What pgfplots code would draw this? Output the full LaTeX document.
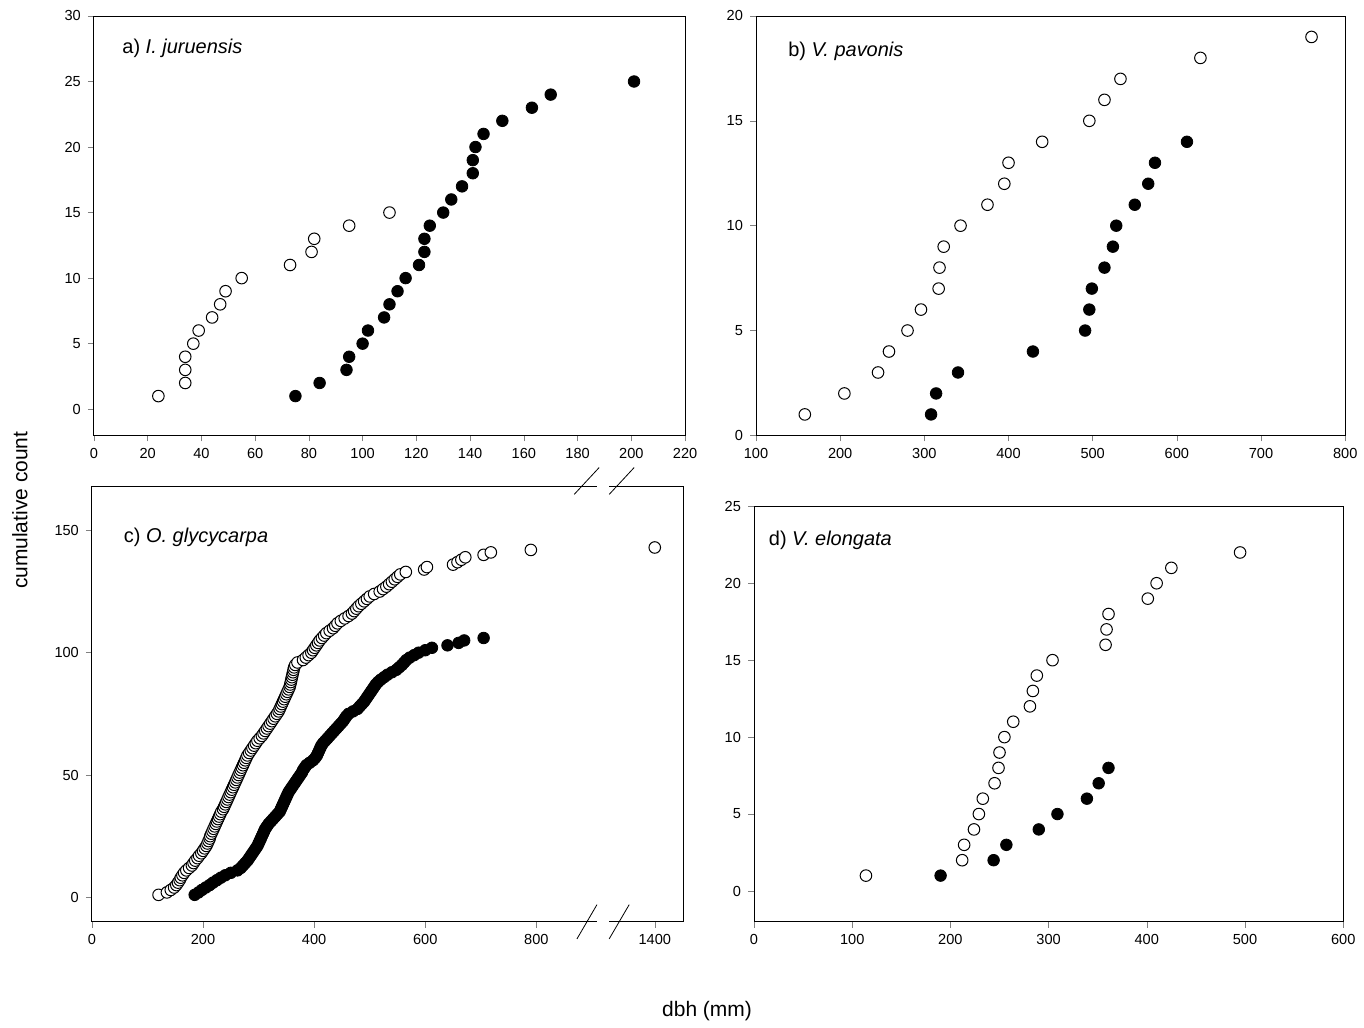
\documentclass[border=0pt]{standalone}
\usepackage{pgfplots}
\pgfplotsset{compat=1.18}
\usepackage{fontspec}
\setmainfont{Liberation Sans}
\pgfplotsset{every axis/.style={scale only axis, anchor=south west, tick align=outside, xtick pos=bottom, ytick pos=left,
 tick label style={font=\fontsize{7.3}{8}\selectfont}, /pgf/number format/assume math mode=true,
 major tick length=3pt, clip=false},
 op/.style={only marks, mark=*, mark options={fill=white,draw=black,line width=0.5pt}, mark size=2.9pt},
 fi/.style={only marks, mark=*, mark options={fill=black,draw=black}, mark size=2.9pt}}
\begin{document}
\begin{tikzpicture}
\path (0pt,0pt) rectangle (682pt,511.5pt);
% a
\begin{axis}[at={(47pt,293.5pt)}, width=296pt, height=210pt, xmin=0, xmax=220, ymin=-2, ymax=30,
 xtick={0,20,...,220}, ytick={0,5,...,30}]
\node[anchor=west,font=\fontsize{10}{12}\selectfont] at (axis cs:8,27.5) {a) \textit{I. juruensis}};
\addplot[op] coordinates {(24,1)(34,2)(34,3)(34,4)(37,5)(39,6)(44,7)(47,8)(49,9)(55,10)(73,11)(81,12)(82,13)(95,14)(110,15)};
\addplot[fi] coordinates {(75,1)(84,2)(94,3)(95,4)(100,5)(102,6)(108,7)(110,8)(113,9)(116,10)(121,11)(123,12)(123,13)(125,14)(130,15)(133,16)(137,17)(141,18)(141,19)(142,20)(145,21)(152,22)(163,23)(170,24)(201,25)};
\end{axis}
% b
\begin{axis}[at={(378.5pt,293.5pt)}, width=295pt, height=210pt, xmin=100, xmax=800, ymin=0, ymax=20,
 xtick={100,200,...,800}, ytick={0,5,...,20}]
\node[anchor=west,font=\fontsize{10}{12}\selectfont] at (axis cs:130,18.3) {b) \textit{V. pavonis}};
\addplot[op] coordinates {(158,1)(205,2)(245,3)(258,4)(280,5)(296,6)(317,7)(318,8)(323,9)(343,10)(375,11)(395,12)(400,13)(440,14)(496,15)(514,16)(533,17)(628,18)(760,19)};
\addplot[fi] coordinates {(308,1)(314,2)(340,3)(429,4)(491,5)(496,6)(499,7)(514,8)(524,9)(528,10)(550,11)(566,12)(574,13)(612,14)};
\end{axis}
% c
\begin{axis}[at={(46pt,50pt)}, width=296pt, height=218pt, xmin=0, xmax=1064, ymin=-10, ymax=168,
 xtick={0,200,400,600,800,1013}, xticklabels={0,200,400,600,800,1400}, ytick={0,50,100,150}]
\node[anchor=west,font=\fontsize{10}{12}\selectfont] at (axis cs:45,147) {c) \textit{O. glycycarpa}};
\addplot[op] coordinates {(120,1)(135,2)(142,3)(148,4)(152,5)(155,6)(158,7)(160,8)(163,9)(166,10)(170,11)(175,12)(180,13)(183,14)(186,15)(190,16)(193,17)(197,18)(200,19)(203,20)(206,21)(208,22)(210,23)(212,24)(213,25)(215,26)(217,27)(219,28)(221,29)(223,30)(225,31)(227,32)(229,33)(231,34)(233,35)(236,36)(238,37)(240,38)(242,39)(244,40)(246,41)(248,42)(250,43)(252,44)(254,45)(256,46)(258,47)(260,48)(262,49)(264,50)(266,51)(268,52)(270,53)(272,54)(274,55)(276,56)(278,57)(280,58)(283,59)(286,60)(289,61)(292,62)(295,63)(298,64)(302,65)(306,66)(309,67)(312,68)(315,69)(318,70)(321,71)(324,72)(327,73)(330,74)(333,75)(336,76)(338,77)(340,78)(342,79)(344,80)(346,81)(348,82)(350,83)(352,84)(354,85)(356,86)(357,87)(358,88)(359,89)(360,90)(361,91)(362,92)(363,93)(364,94)(366,95)(370,96)(380,97)(385,98)(390,99)(395,100)(398,101)(401,102)(404,103)(407,104)(410,105)(414,106)(418,107)(422,108)(428,109)(434,110)(438,111)(442,112)(448,113)(455,114)(462,115)(468,116)(472,117)(476,118)(480,119)(485,120)(490,121)(495,122)(500,123)(508,124)(518,125)(524,126)(530,127)(535,128)(540,129)(545,130)(550,131)(555,132)(565,133)(598,134)(603,135)(650,136)(658,137)(665,138)(672,139)(705,140)(718,141)(790,142)(1013,143)};
\addplot[fi] coordinates {(185,1)(192,2)(198,3)(205,4)(212,5)(218,6)(225,7)(232,8)(240,9)(250,10)(262,11)(268,12)(272,13)(276,14)(280,15)(283,16)(286,17)(289,18)(292,19)(295,20)(298,21)(300,22)(302,23)(304,24)(306,25)(308,26)(310,27)(312,28)(315,29)(318,30)(322,31)(326,32)(330,33)(334,34)(338,35)(340,36)(342,37)(344,38)(346,39)(348,40)(350,41)(352,42)(354,43)(357,44)(360,45)(363,46)(366,47)(369,48)(372,49)(375,50)(378,51)(380,52)(383,53)(386,54)(392,55)(398,56)(402,57)(405,58)(407,59)(409,60)(411,61)(413,62)(416,63)(420,64)(424,65)(428,66)(432,67)(436,68)(440,69)(444,70)(448,71)(452,72)(455,73)(458,74)(462,75)(470,76)(478,77)(482,78)(486,79)(490,80)(493,81)(496,82)(499,83)(502,84)(505,85)(508,86)(511,87)(515,88)(520,89)(526,90)(532,91)(540,92)(548,93)(553,94)(558,95)(562,96)(566,97)(572,98)(580,99)(588,100)(600,101)(612,102)(640,103)(660,104)(670,105)(705,106)};
\fill[white] (axis cs:909,-13) rectangle (axis cs:931,-7);
\fill[white] (axis cs:909,165) rectangle (axis cs:931,171);
\draw (axis cs:873,-17) -- (axis cs:909,-3);
\draw (axis cs:931,-17) -- (axis cs:967,-3);
\draw (axis cs:868,164.7) -- (axis cs:913,175.7);
\draw (axis cs:931,164.7) -- (axis cs:976,175.7);
\end{axis}
% d
\begin{axis}[at={(377.5pt,50pt)}, width=295pt, height=208pt, xmin=0, xmax=600, ymin=-2, ymax=25,
 xtick={0,100,...,600}, ytick={0,5,...,25}]
\node[anchor=west,font=\fontsize{10}{12}\selectfont] at (axis cs:8,22.8) {d) \textit{V. elongata}};
\addplot[op] coordinates {(114,1)(212,2)(214,3)(224,4)(229,5)(233,6)(245,7)(249,8)(250,9)(255,10)(264,11)(281,12)(284,13)(288,14)(304,15)(358,16)(359,17)(361,18)(401,19)(410,20)(425,21)(495,22)};
\addplot[fi] coordinates {(190,1)(244,2)(257,3)(290,4)(309,5)(339,6)(351,7)(361,8)};
\end{axis}
\node[rotate=90,font=\fontsize{10.5}{12}\selectfont] at (10pt,256pt) {cumulative count};
\node[font=\fontsize{10.5}{12}\selectfont] at (354pt,5.5pt) {dbh (mm)};
\end{tikzpicture}
\end{document}
